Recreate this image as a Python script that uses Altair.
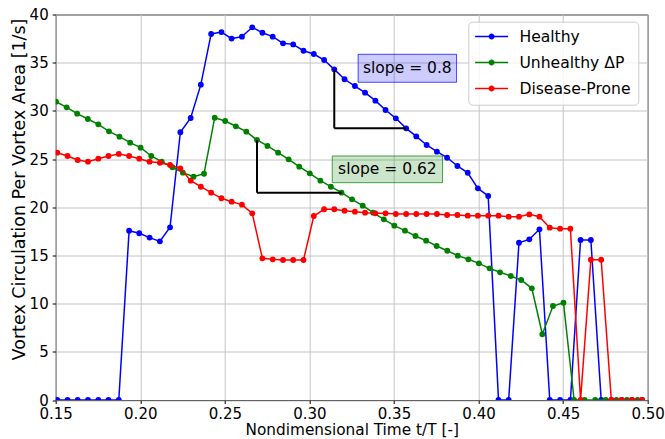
import altair as alt
import pandas as pd

# ---------------- data ----------------
# sample times shared by "Healthy" and "Disease-Prone"
t_hr = [0.1509, 0.1570, 0.1630, 0.1691, 0.1752, 0.1812, 0.1873, 0.1934, 0.1994, 0.2055,
        0.2116, 0.2176, 0.2237, 0.2298, 0.2358, 0.2419, 0.2480, 0.2540, 0.2601, 0.2662,
        0.2722, 0.2783, 0.2844, 0.2904, 0.2965, 0.3026, 0.3087, 0.3147, 0.3208, 0.3269,
        0.3329, 0.3390, 0.3450, 0.3511, 0.3572, 0.3632, 0.3693, 0.3754, 0.3814, 0.3875,
        0.3936, 0.3996, 0.4057, 0.4118, 0.4178, 0.4239, 0.4300, 0.4360, 0.4421, 0.4482,
        0.4543, 0.4603, 0.4664, 0.4725, 0.4785, 0.4846, 0.4907, 0.4967]

healthy = [0, 0, 0, 0, 0, 0, 0, 17.57, 17.30, 16.85,
           16.46, 17.92, 27.78, 29.26, 32.72, 37.98, 38.18, 37.50, 37.70, 38.67,
           38.11, 37.70, 37.01, 36.90, 36.24, 35.90, 35.28, 34.31, 33.28, 32.58,
           31.89, 31.06, 30.09, 29.23, 28.19, 27.35, 26.46, 25.77, 25.14, 24.28,
           23.58, 21.96, 21.17, 0, 0, 16.32, 16.67, 17.71, 0, 0,
           0, 16.60, 16.60, 0, 0, 0, 0, 0]

disease = [25.66, 25.32, 24.90, 24.73, 25.04, 25.32, 25.53, 25.32, 25.04, 24.73,
           24.62, 24.38, 24.04, 22.76, 22.13, 21.51, 20.93, 20.58, 20.27, 19.37,
           14.70, 14.60, 14.53, 14.53, 14.53, 19.09, 19.79, 19.79, 19.64, 19.54,
           19.44, 19.37, 19.37, 19.30, 19.30, 19.30, 19.30, 19.30, 19.20, 19.20,
           19.13, 19.13, 19.13, 19.13, 19.02, 19.02, 19.26, 19.02, 17.88, 17.78,
           17.78, 0, 14.55, 14.55, 0, 0, 0, 0]

# sample times of "Unhealthy ΔP"
t_un = [0.1502, 0.1565, 0.1627, 0.1690, 0.1752, 0.1815, 0.1877, 0.1940, 0.2002, 0.2065,
        0.2127, 0.2190, 0.2252, 0.2315, 0.2377, 0.2440, 0.2502, 0.2565, 0.2627, 0.2690,
        0.2752, 0.2815, 0.2877, 0.2940, 0.3002, 0.3065, 0.3127, 0.3190, 0.3252, 0.3315,
        0.3377, 0.3440, 0.3502, 0.3565, 0.3627, 0.3690, 0.3752, 0.3815, 0.3877, 0.3940,
        0.4002, 0.4065, 0.4127, 0.4190, 0.4252, 0.4315, 0.4377, 0.4440, 0.4502, 0.4565,
        0.4627, 0.4690, 0.4752, 0.4815, 0.4877, 0.4940]

unhealthy = [30.95, 30.37, 29.71, 29.16, 28.60, 27.88, 27.32, 26.70, 26.18, 25.32,
             24.73, 24.15, 23.59, 23.17, 23.48, 29.29, 28.95, 28.40, 27.84, 26.98,
             26.36, 25.66, 24.97, 24.21, 23.52, 22.76, 22.13, 21.51, 20.82, 20.16,
             19.44, 18.75, 18.09, 17.57, 17.02, 16.53, 15.98, 15.49, 14.98, 14.60,
             14.18, 13.66, 13.25, 12.87, 12.45, 11.59, 6.82, 9.75, 10.10, 0,
             0, 0, 0, 0, 0, 0]

series_names = ["Healthy", "Unhealthy ΔP", "Disease-Prone"]
series_colors = ["#0000ff", "#008000", "#ff0000"]

x_ticks = [0.15, 0.20, 0.25, 0.30, 0.35, 0.40, 0.45, 0.50]
y_ticks = [0, 5, 10, 15, 20, 25, 30, 35, 40]

# slope annotation boxes (data coordinates)
box_labels = ["slope = 0.8", "slope = 0.62"]
box_t = [0.3288, 0.3135]
box_t2 = [0.3870, 0.3787]
box_v = [32.97, 22.55]
box_v2 = [35.87, 25.32]
box_text_t = [0.3579, 0.3461]
box_text_v = [34.40, 23.92]
box_fill = ["#0000ff", "#008000"]

# ---------------- tables ----------------
data = pd.concat([
    pd.DataFrame({"t": t_hr, "v": healthy, "series": series_names[0]}),
    pd.DataFrame({"t": t_un, "v": unhealthy, "series": series_names[1]}),
    pd.DataFrame({"t": t_hr, "v": disease, "series": series_names[2]}),
], ignore_index=True)

boxes = pd.DataFrame({"t": box_t, "t2": box_t2, "v": box_v, "v2": box_v2,
                      "c": box_fill, "label": box_labels,
                      "tt": box_text_t, "vt": box_text_v})

# slope triangles built from the data points
tri = pd.DataFrame({
    "t":  [t_hr[27], t_hr[27], t_un[19], t_un[19]],
    "v":  [healthy[27], healthy[34], unhealthy[19], unhealthy[27]],
    "t2": [t_hr[27], t_hr[34], t_un[19], t_un[27]],
    "v2": [healthy[34], healthy[34], unhealthy[27], unhealthy[27]],
})

FONT = "DejaVu Sans"

x_scale = alt.Scale(domain=[0.15, 0.50], nice=False, zero=False)
y_scale = alt.Scale(domain=[0, 40], nice=False)
x_axis = alt.Axis(values=x_ticks, format=".2f", title="Nondimensional Time t/T [-]",
                  titleY=34.5, titleBaseline="alphabetic", titleFontSize=15.3,
                  labelPadding=3, labelFlush=False, labelOverlap=False)
y_axis = alt.Axis(values=y_ticks, format="d",
                  title="Vortex Circulation Per Vortex Area [1/s]",
                  titleAngle=270, titleX=-31.2, titleY=174.5, titleFontSize=17.5,
                  titleBaseline="alphabetic", titleAlign="center", labelPadding=4,
                  labelFlush=False, labelOverlap=False)

X = alt.X("t:Q", scale=x_scale, axis=x_axis)
Y = alt.Y("v:Q", scale=y_scale, axis=y_axis)

legend_path = ("M-3.3,-0.15L3.3,-0.15L3.3,0.15L-3.3,0.15Z"
               "M0.6,0A0.6,0.6,0,1,1,-0.6,0A0.6,0.6,0,1,1,0.6,0Z")
legend = alt.Legend(orient="none", legendX=412.6, legendY=7.2, title=None,
                    symbolType=legend_path, symbolSize=100, symbolStrokeWidth=0,
                    symbolOffset=8.5, labelOffset=20,
                    labelFont=FONT, labelFontSize=15.6, labelColor="black",
                    labelLimit=300, padding=7, rowPadding=9,
                    fillColor="rgba(255,255,255,0.8)", strokeColor="#cccccc",
                    cornerRadius=4)
color_scale = alt.Scale(domain=series_names, range=series_colors)
C = alt.Color("series:N", scale=color_scale, legend=legend)

layers = []
for name in series_names:
    base = alt.Chart(data).transform_filter(alt.datum.series == name)
    layers.append(base.mark_line(strokeWidth=1.5, clip=True).encode(x=X, y=Y, color=C))
    layers.append(base.mark_point(filled=True, size=34, opacity=1, clip=True).encode(
        x=X, y=Y, color=C))

rects = alt.Chart(boxes).mark_rect(fillOpacity=0.2, strokeOpacity=0.7, strokeWidth=1).encode(
    x=X, x2="t2:Q", y=Y, y2="v2:Q",
    fill=alt.Fill("c:N", scale=None), stroke=alt.Stroke("c:N", scale=None))
texts = alt.Chart(boxes).mark_text(font=FONT, fontSize=15.5, color="black",
                                   align="center", baseline="middle").encode(
    x=alt.X("tt:Q", scale=x_scale, axis=x_axis),
    y=alt.Y("vt:Q", scale=y_scale, axis=y_axis),
    text="label:N")
rules = alt.Chart(tri).mark_rule(color="black", strokeWidth=2).encode(
    x=X, y=Y, x2="t2:Q", y2="v2:Q")

chart = alt.layer(*layers, rules, rects, texts).properties(
    width=592, height=385.5,
    autosize=alt.AutoSizeParams(type="none"),
    padding={"left": 55.7, "top": 14.5, "right": 17.3, "bottom": 39},
    background="white",
).configure_view(
    stroke="black", strokeWidth=1
).configure_axis(
    domain=False, grid=True, gridColor="#c4c4c4", gridWidth=1,
    tickColor="black", tickSize=3.5, tickWidth=1,
    labelFont=FONT, labelFontSize=15, labelColor="black",
    titleFont=FONT, titleFontSize=15, titleFontWeight="normal", titleColor="black",
)

chart.save("out.html", embed_options={"renderer": "svg", "actions": False})
